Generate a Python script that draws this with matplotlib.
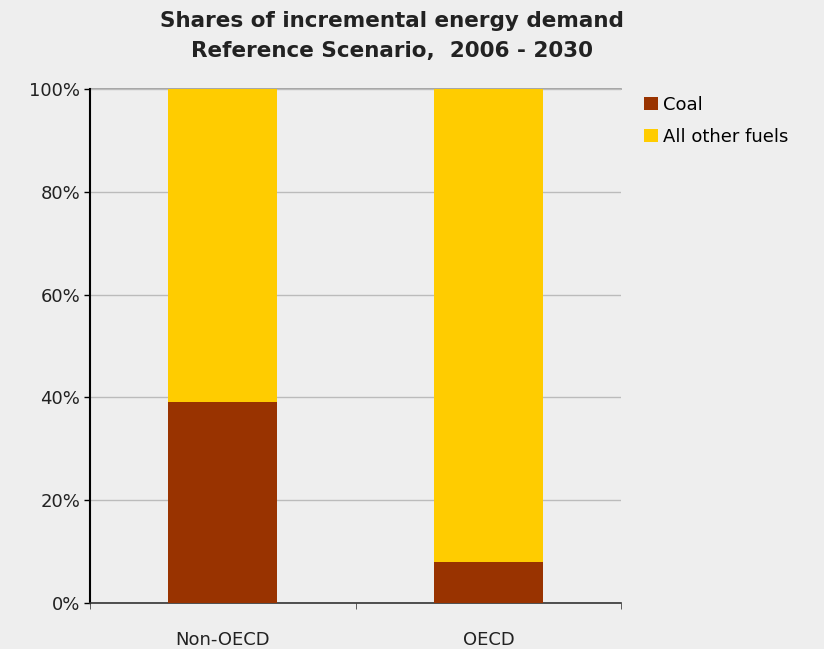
import matplotlib.pyplot as plt
import numpy as np

regions = ["Non-OECD", "OECD"]
coal = [39, 8]
other = [61, 92]
y_ticks = [0, 20, 40, 60, 80, 100]
y_labels = ["0%", "20%", "40%", "60%", "80%", "100%"]

plt.rcParams['font.family'] = ['DejaVu Sans']

bg = '#eeeeee'
fig = plt.figure(figsize=(8.24, 6.49), dpi=100, facecolor=bg)
ax = fig.add_axes([0.109, 0.071, 0.645, 0.792], facecolor=bg)

x = np.arange(len(regions))
w = 0.41
ax.bar(x, coal, width=w, color='#993300', label='Coal', zorder=3)
ax.bar(x, other, width=w, bottom=coal, color='#ffcc00', label='All other fuels', zorder=3)

ax.set_xlim(-0.5, 1.5)
ax.set_ylim(0, 100)
ax.set_yticks(y_ticks)
ax.set_yticklabels(y_labels, fontsize=13, color='#222222')
ax.set_xticks(x)
ax.set_xticklabels(regions, fontsize=13, color='#222222')
ax.tick_params(axis='x', length=0, pad=20)
ax.tick_params(axis='y', length=4, width=1, pad=3)
# category boundary ticks on x axis
ax.set_xticks([-0.5, 0.5, 1.5], minor=True)
ax.tick_params(axis='x', which='minor', length=4, direction='out', color='#444444')

ax.grid(axis='y', color='#bbbbbb', linewidth=1, zorder=0)
for s in ['top', 'right']:
    ax.spines[s].set_visible(False)
ax.spines['left'].set_color('black')
ax.spines['left'].set_linewidth(1.5)
ax.spines['bottom'].set_color('#333333')
ax.spines['bottom'].set_linewidth(1.2)
ax.axhline(100, color='#999999', linewidth=1.2, zorder=1, clip_on=False)

fig.text(0.476, 0.983, "Shares of incremental energy demand\nReference Scenario,  2006 - 2030",
         ha='center', va='top', fontsize=15.5, fontweight='bold', color='#222222', linespacing=1.6)

ax.legend(loc='upper left', bbox_to_anchor=(1.03, 1.0), frameon=False, fontsize=13,
          handlelength=0.75, handleheight=0.75, handletextpad=0.25, labelspacing=0.75,
          borderaxespad=0.0)

plt.savefig("out.png", dpi=100, facecolor=bg)
